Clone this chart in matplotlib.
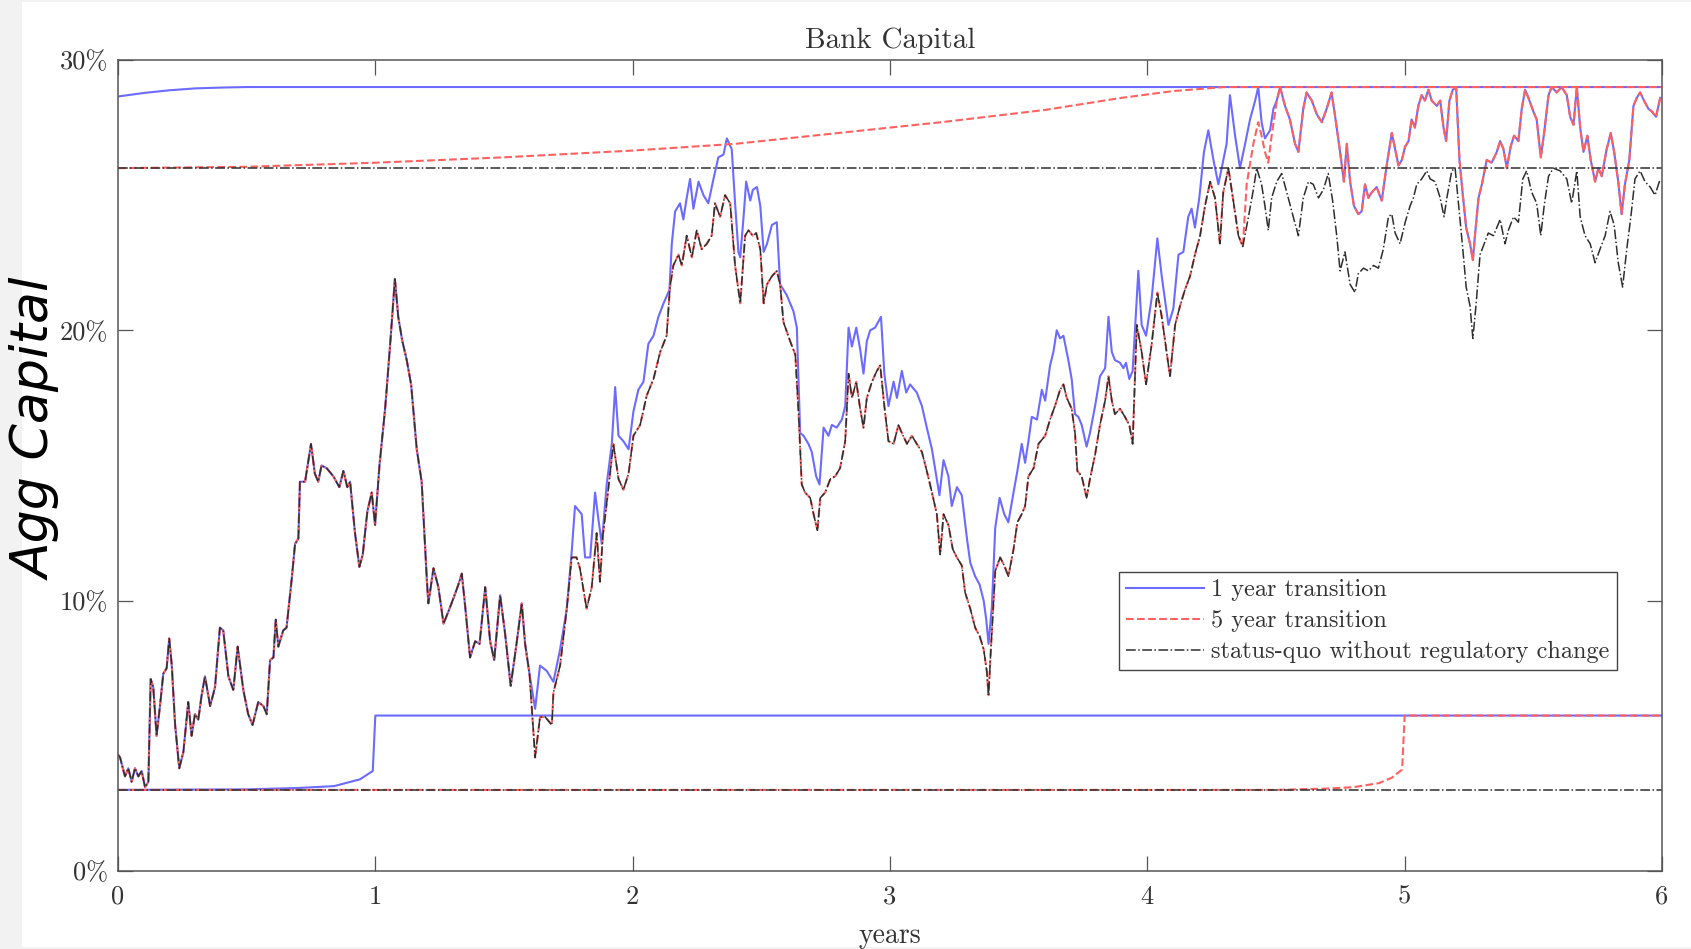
import numpy as np
import matplotlib.pyplot as plt
from matplotlib.lines import Line2D
from matplotlib.patches import Rectangle

# ---------------- data (values in %) ----------------
# path shared by all three scenarios until ~1.6 years
common_t = [0.0, 0.008, 0.027, 0.040, 0.053, 0.066, 0.079, 0.092, 0.105, 0.118,
            0.127, 0.137, 0.150, 0.163, 0.176, 0.189, 0.199, 0.209, 0.222, 0.238,
            0.254, 0.273, 0.286, 0.299, 0.312, 0.325, 0.338, 0.358, 0.377, 0.396,
            0.409, 0.429, 0.448, 0.465, 0.487, 0.506, 0.523, 0.545, 0.565, 0.578,
            0.591, 0.604, 0.613, 0.623, 0.642, 0.655, 0.675, 0.688, 0.701, 0.707,
            0.727, 0.750, 0.765, 0.778, 0.791, 0.811, 0.837, 0.860, 0.876, 0.891,
            0.902, 0.921, 0.938, 0.951, 0.969, 0.986, 0.999, 1.016, 1.038, 1.057,
            1.076, 1.089, 1.105, 1.122, 1.139, 1.161, 1.180, 1.200, 1.206, 1.226,
            1.245, 1.265, 1.284, 1.304, 1.323, 1.336, 1.349, 1.368, 1.388, 1.405,
            1.427, 1.446, 1.462, 1.485, 1.504, 1.526, 1.550, 1.569, 1.582, 1.599]
common_v = [4.3, 4.2, 3.5, 3.8, 3.3, 3.8, 3.5, 3.7, 3.1, 3.3,
            7.1, 6.8, 5.0, 6.1, 7.3, 7.5, 8.6, 7.6, 5.4, 3.8,
            4.4, 6.25, 5.0, 5.8, 5.6, 6.5, 7.2, 6.1, 6.8, 9.0,
            8.9, 7.2, 6.7, 8.3, 6.7, 5.8, 5.4, 6.25, 6.1, 5.8,
            7.8, 7.9, 9.3, 8.3, 8.9, 9.0, 10.8, 12.1, 12.3, 14.4,
            14.4, 15.8, 14.7, 14.4, 15.0, 14.9, 14.6, 14.2, 14.8, 14.2,
            14.4, 12.5, 11.25, 11.7, 13.3, 14.0, 12.8, 15.0, 17.1, 19.4,
            21.9, 20.5, 19.6, 18.9, 18.0, 15.6, 14.4, 10.8, 9.9, 11.2,
            10.5, 9.15, 9.6, 10.1, 10.6, 11.0, 9.8, 7.9, 8.5, 8.4,
            10.5, 8.5, 7.8, 10.2, 8.8, 6.85, 8.5, 9.9, 8.4, 7.3]

# 1 year transition path after the split
blue_t = [1.621, 1.640, 1.666, 1.692, 1.718, 1.744, 1.763, 1.776, 1.802, 1.815,
          1.835, 1.854, 1.867, 1.880, 1.899, 1.919, 1.932, 1.945, 1.964, 1.984,
          2.003, 2.022, 2.042, 2.061, 2.081, 2.100, 2.120, 2.143, 2.152, 2.165,
          2.184, 2.197, 2.210, 2.223, 2.236, 2.256, 2.275, 2.294, 2.314, 2.333,
          2.353, 2.366, 2.385, 2.398, 2.411, 2.418, 2.431, 2.441, 2.457, 2.467,
          2.483, 2.496, 2.509, 2.522, 2.541, 2.560, 2.573, 2.599, 2.625, 2.638,
          2.651, 2.664, 2.683, 2.696, 2.713, 2.726, 2.742, 2.761, 2.774, 2.793,
          2.813, 2.826, 2.839, 2.852, 2.869, 2.884, 2.897, 2.910, 2.923, 2.942,
          2.965, 2.978, 2.994, 3.014, 3.027, 3.046, 3.063, 3.078, 3.104, 3.124,
          3.143, 3.163, 3.180, 3.192, 3.208, 3.227, 3.240, 3.260, 3.279, 3.299,
          3.312, 3.331, 3.348, 3.364, 3.374, 3.383, 3.396, 3.409, 3.426, 3.444,
          3.460, 3.480, 3.495, 3.512, 3.525, 3.538, 3.551, 3.571, 3.590, 3.603,
          3.622, 3.635, 3.648, 3.661, 3.674, 3.693, 3.706, 3.719, 3.732, 3.745,
          3.764, 3.777, 3.797, 3.816, 3.836, 3.849, 3.862, 3.874, 3.894, 3.907,
          3.917, 3.930, 3.943, 3.965, 3.978, 3.995, 4.017, 4.039, 4.056, 4.082,
          4.101, 4.121, 4.140, 4.159, 4.172, 4.185, 4.202, 4.220, 4.237, 4.257,
          4.276, 4.289, 4.308, 4.321, 4.341, 4.360, 4.380, 4.399, 4.419, 4.431,
          4.444, 4.457, 4.477, 4.490, 4.503, 4.516, 4.535, 4.554, 4.574, 4.587,
          4.606, 4.619, 4.639, 4.658, 4.678, 4.697, 4.716, 4.733, 4.749, 4.764,
          4.775, 4.788, 4.803, 4.820, 4.833, 4.846, 4.859, 4.872, 4.891, 4.911,
          4.930, 4.950, 4.963, 4.976, 4.989, 5.002, 5.015, 5.027, 5.040, 5.053,
          5.066, 5.079, 5.092, 5.105, 5.125, 5.138, 5.151, 5.161, 5.174, 5.187,
          5.200, 5.213, 5.226, 5.239, 5.254, 5.265, 5.274, 5.287, 5.300, 5.319,
          5.338, 5.358, 5.371, 5.384, 5.397, 5.412, 5.425, 5.442, 5.455, 5.468,
          5.481, 5.500, 5.513, 5.529, 5.542, 5.559, 5.571, 5.591, 5.610, 5.630,
          5.643, 5.656, 5.669, 5.682, 5.695, 5.710, 5.723, 5.740, 5.753, 5.766,
          5.785, 5.801, 5.814, 5.830, 5.843, 5.856, 5.873, 5.889, 5.902, 5.915,
          5.930, 5.947, 5.960, 5.977, 5.993]
blue_v = [6.0, 7.6, 7.4, 7.0, 8.2, 9.7, 11.8, 13.5, 13.2, 11.6,
          11.6, 14.0, 13.0, 12.1, 14.3, 15.8, 17.9, 16.1, 15.9, 15.6,
          17.0, 17.8, 18.1, 19.5, 19.8, 20.5, 21.0, 21.5, 23.2, 24.4,
          24.7, 24.1, 24.9, 25.6, 24.5, 25.5, 25.0, 24.7, 25.6, 26.4,
          26.5, 27.1, 26.7, 24.7, 22.9, 22.7, 24.2, 25.5, 24.8, 25.2,
          25.3, 24.6, 22.9, 23.2, 23.9, 24.0, 21.7, 21.3, 20.7, 20.1,
          16.2, 16.1, 15.8, 15.5, 14.6, 14.3, 16.4, 16.1, 16.5, 16.4,
          16.7, 17.2, 20.1, 19.4, 20.1, 19.3, 18.4, 19.6, 20.0, 20.1,
          20.5, 18.4, 17.2, 18.1, 17.5, 18.5, 17.7, 18.0, 17.7, 17.2,
          16.4, 15.6, 14.6, 13.9, 15.2, 14.6, 13.5, 14.2, 13.9, 12.3,
          11.4, 10.9, 10.6, 10.0, 9.3, 8.4, 9.8, 12.7, 13.8, 13.2,
          12.9, 14.0, 14.8, 15.8, 15.1, 15.9, 16.8, 16.7, 17.8, 17.4,
          18.7, 19.2, 20.0, 19.7, 19.8, 18.9, 18.2, 16.9, 16.8, 16.5,
          15.7, 16.2, 17.2, 18.3, 18.6, 20.5, 19.2, 18.9, 18.8, 18.6,
          18.8, 18.2, 18.5, 22.2, 20.2, 19.8, 21.2, 23.4, 22.0, 20.2,
          20.8, 22.8, 22.9, 24.2, 24.5, 23.8, 24.9, 26.6, 27.4, 26.3,
          25.4, 26.0, 26.9, 28.7, 27.2, 26.0, 26.9, 27.8, 28.5, 29.0,
          27.7, 27.1, 27.4, 28.2, 28.5, 29.0, 28.3, 27.8, 26.9, 26.6,
          28.2, 28.8, 28.5, 28.0, 27.7, 28.2, 28.8, 27.7, 26.6, 25.5,
          26.9, 25.5, 24.6, 24.3, 24.4, 25.4, 24.9, 25.1, 25.3, 24.8,
          26.1, 27.3, 26.7, 26.1, 26.3, 26.8, 27.0, 27.8, 27.5, 28.3,
          28.7, 28.5, 28.9, 28.5, 28.3, 28.5, 27.5, 27.0, 28.5, 28.9,
          29.0, 26.3, 25.0, 23.8, 23.2, 22.6, 23.6, 24.9, 25.4, 26.3,
          26.2, 26.6, 27.0, 26.7, 26.0, 26.8, 27.2, 27.0, 28.2, 28.9,
          28.6, 28.1, 27.8, 26.4, 27.3, 28.7, 29.0, 28.8, 29.0, 28.7,
          27.9, 27.6, 29.0, 27.5, 26.6, 27.2, 26.3, 25.5, 26.0, 25.7,
          26.7, 27.3, 26.6, 25.5, 24.3, 25.4, 26.3, 28.3, 28.6, 28.8,
          28.5, 28.2, 28.1, 27.9, 28.6]

# status quo path after the split (5 year path follows it until ~4.37)
black_t = [1.621, 1.640, 1.660, 1.686, 1.692, 1.718, 1.744, 1.763, 1.782, 1.795,
           1.821, 1.841, 1.860, 1.873, 1.884, 1.899, 1.925, 1.945, 1.964, 1.984,
           2.003, 2.029, 2.055, 2.081, 2.107, 2.132, 2.145, 2.158, 2.178, 2.191,
           2.210, 2.230, 2.249, 2.268, 2.288, 2.307, 2.320, 2.340, 2.359, 2.379,
           2.398, 2.418, 2.437, 2.450, 2.467, 2.480, 2.496, 2.509, 2.522, 2.541,
           2.560, 2.573, 2.586, 2.612, 2.632, 2.645, 2.657, 2.670, 2.690, 2.703,
           2.718, 2.729, 2.748, 2.768, 2.787, 2.806, 2.826, 2.839, 2.852, 2.869,
           2.884, 2.897, 2.910, 2.930, 2.949, 2.962, 2.978, 2.994, 3.014, 3.033,
           3.046, 3.066, 3.085, 3.104, 3.124, 3.143, 3.163, 3.182, 3.195, 3.208,
           3.227, 3.244, 3.260, 3.279, 3.292, 3.312, 3.331, 3.348, 3.364, 3.376,
           3.383, 3.392, 3.409, 3.428, 3.444, 3.460, 3.480, 3.495, 3.512, 3.525,
           3.538, 3.558, 3.577, 3.603, 3.622, 3.641, 3.661, 3.674, 3.687, 3.706,
           3.719, 3.728, 3.745, 3.764, 3.777, 3.797, 3.816, 3.836, 3.849, 3.862,
           3.874, 3.894, 3.913, 3.930, 3.943, 3.959, 3.978, 3.995, 4.017, 4.039,
           4.056, 4.075, 4.088, 4.108, 4.127, 4.146, 4.166, 4.185, 4.205, 4.224,
           4.244, 4.263, 4.282, 4.295, 4.315, 4.334, 4.354, 4.371, 4.393, 4.412,
           4.425, 4.444, 4.457, 4.470, 4.483, 4.503, 4.522, 4.542, 4.567, 4.587,
           4.606, 4.626, 4.645, 4.665, 4.684, 4.703, 4.720, 4.736, 4.749, 4.768,
           4.788, 4.807, 4.820, 4.840, 4.859, 4.879, 4.898, 4.917, 4.937, 4.950,
           4.963, 4.982, 5.002, 5.021, 5.034, 5.047, 5.066, 5.086, 5.099, 5.118,
           5.138, 5.153, 5.164, 5.183, 5.196, 5.209, 5.226, 5.239, 5.254, 5.265,
           5.277, 5.293, 5.309, 5.325, 5.345, 5.371, 5.390, 5.403, 5.423, 5.442,
           5.459, 5.474, 5.494, 5.513, 5.529, 5.542, 5.559, 5.578, 5.604, 5.630,
           5.649, 5.669, 5.682, 5.701, 5.721, 5.740, 5.759, 5.779, 5.798, 5.814,
           5.830, 5.847, 5.863, 5.879, 5.895, 5.915, 5.934, 5.954, 5.973, 5.993]
black_v = [4.2, 5.7, 5.7, 5.4, 6.6, 7.6, 9.7, 11.6, 11.6, 11.2,
           9.7, 10.5, 12.5, 10.7, 12.4, 13.6, 15.8, 14.5, 14.1, 14.7,
           16.1, 16.5, 17.6, 18.2, 19.2, 19.8, 21.6, 22.4, 22.8, 22.4,
           23.5, 22.7, 23.7, 23.0, 23.2, 23.5, 24.7, 24.2, 25.0, 24.7,
           22.4, 21.0, 23.5, 23.7, 23.5, 23.6, 23.0, 21.0, 21.7, 22.0,
           22.2, 21.7, 20.3, 19.6, 19.1, 16.9, 14.3, 14.0, 13.8, 13.2,
           12.6, 13.8, 14.0, 14.5, 14.6, 14.9, 15.9, 18.4, 17.5, 18.1,
           17.1, 16.4, 17.5, 18.1, 18.5, 18.7, 17.2, 15.9, 15.8, 16.5,
           16.2, 15.8, 16.1, 15.8, 15.5, 14.8, 14.0, 13.2, 11.7, 13.2,
           12.8, 11.9, 11.6, 11.3, 10.3, 9.7, 9.0, 8.7, 8.2, 7.4,
           6.5, 8.2, 11.1, 11.6, 11.3, 10.9, 11.9, 12.9, 13.2, 13.5,
           14.6, 14.9, 15.8, 16.1, 16.7, 17.2, 17.8, 18.0, 17.5, 17.1,
           16.2, 14.8, 14.6, 13.8, 14.5, 15.4, 16.5, 17.4, 18.3, 17.4,
           16.9, 17.1, 16.8, 16.5, 15.8, 20.2, 19.2, 18.0, 19.5, 21.4,
           20.5, 19.2, 18.3, 20.2, 20.9, 21.5, 22.0, 22.8, 23.5, 24.6,
           25.5, 24.9, 23.2, 25.1, 26.0, 24.8, 23.5, 23.1, 24.2, 25.2,
           26.0, 25.4, 24.6, 23.7, 24.9, 25.5, 25.8, 25.1, 24.2, 23.5,
           24.9, 25.5, 25.4, 24.9, 25.2, 25.8, 24.8, 23.5, 22.2, 22.9,
           21.7, 21.4, 22.1, 22.3, 22.2, 22.4, 22.3, 23.0, 24.2, 24.3,
           23.6, 23.2, 24.0, 24.6, 24.9, 25.4, 25.6, 25.9, 25.6, 25.5,
           24.9, 24.2, 24.9, 25.9, 26.0, 24.7, 23.0, 21.6, 20.9, 19.7,
           20.9, 22.8, 23.2, 23.6, 23.5, 24.1, 23.2, 23.7, 24.2, 24.0,
           25.6, 25.9, 25.1, 24.7, 23.5, 24.6, 25.7, 26.0, 25.9, 25.6,
           24.7, 25.9, 24.2, 23.5, 23.2, 22.5, 23.0, 23.5, 24.4, 23.9,
           22.5, 21.6, 23.0, 24.2, 25.6, 25.9, 25.5, 25.3, 25.0, 25.6]

# 5 year transition: own stretch between leaving status quo and joining 1 year path
red_t = [4.386, 4.412, 4.431, 4.444, 4.457, 4.470, 4.483]
red_v = [25.4, 26.9, 27.7, 27.2, 26.6, 26.2, 27.2]
red_leave, red_join = 4.371, 4.503

# regulatory bounds
blue_hi_t = [0.0, 0.1, 0.2, 0.3, 0.4, 0.5, 6.0]
blue_hi_v = [28.65, 28.78, 28.88, 28.95, 28.98, 29.0, 29.0]
blue_lo_t = [0.0, 0.5, 0.7, 0.84, 0.94, 0.99, 1.0, 6.0]
blue_lo_v = [3.0, 3.02, 3.07, 3.14, 3.39, 3.7, 5.75, 5.75]
red_hi_t = [0.0, 0.5, 1.0, 1.5, 2.0, 2.4, 2.8, 3.2, 3.6, 3.9, 4.1, 4.3, 6.0]
red_hi_v = [26.0, 26.05, 26.2, 26.4, 26.65, 26.9, 27.3, 27.7, 28.15, 28.6, 28.85, 29.0, 29.0]
red_lo_t = [0.0, 4.5, 4.7, 4.8, 4.9, 4.95, 4.99, 5.0, 6.0]
red_lo_v = [3.0, 3.0, 3.05, 3.1, 3.25, 3.45, 3.75, 5.75, 5.75]
black_hi_v = 26.0
black_lo_v = 3.0

x_ticks = [0, 1, 2, 3, 4, 5, 6]
y_ticks = [0, 10, 20, 30]
y_ticklabels = ['0%', '10%', '20%', '30%']
labels = ['1 year transition', '5 year transition', 'status-quo without regulatory change']

# ---------------- assemble paths ----------------
ct, cv = np.array(common_t), np.array(common_v)
bt, bv = np.array(blue_t), np.array(blue_v)
kt, kv = np.array(black_t), np.array(black_v)

blue_x = np.concatenate([ct, bt])
blue_y = np.concatenate([cv, bv])
black_x = np.concatenate([ct, kt])
black_y = np.concatenate([cv, kv])
red_x = np.concatenate([ct, kt[kt <= red_leave], red_t, bt[bt >= red_join]])
red_y = np.concatenate([cv, kv[kt <= red_leave], red_v, bv[bt >= red_join]])

# ---------------- figure ----------------
plt.rcParams['font.family'] = 'cmr10'
plt.rcParams['axes.unicode_minus'] = False

fig = plt.figure(figsize=(16.91, 9.49), dpi=100, facecolor='#f2f2f2')
fig.patches.append(Rectangle((22 / 1691, 2 / 949), 1, 945 / 949, transform=fig.transFigure,
                             facecolor='white', edgecolor='none', zorder=-10))
ax = fig.add_axes([118 / 1691, 78 / 949, 1544 / 1691, 811 / 949])

c_blue = (0.42, 0.42, 1.0)
c_red = (1.0, 0.38, 0.38)
c_black = '#2e2e2e'

ax.plot(blue_hi_t, blue_hi_v, color=c_blue, lw=1.5)
ax.plot(blue_lo_t, blue_lo_v, color=c_blue, lw=1.5)
ax.plot(blue_x, blue_y, color=c_blue, lw=1.5)

ax.plot(red_hi_t, red_hi_v, color=c_red, lw=1.5, ls='--')
ax.plot(red_lo_t, red_lo_v, color=c_red, lw=1.5, ls='--')
ax.plot(red_x, red_y, color=c_red, lw=1.5, ls='--')

ax.plot([0, 6], [black_hi_v, black_hi_v], color=c_black, lw=1.1, ls='-.')
ax.plot([0, 6], [black_lo_v, black_lo_v], color=c_black, lw=1.1, ls='-.')
ax.plot(black_x, black_y, color=c_black, lw=1.1, ls='-.')

ax.set_xlim(0, 6)
ax.set_ylim(0, 30)
ax.set_xticks(x_ticks)
ax.set_xticklabels([str(v) for v in x_ticks])
ax.set_yticks(y_ticks)
ax.set_yticklabels(y_ticklabels)
ax.tick_params(direction='in', length=11, width=0.9, color='#555555', labelcolor='#333333',
               labelsize=19, top=True, right=True)
ax.tick_params(axis='x', pad=10)
ax.tick_params(axis='y', pad=7)
for s in ax.spines.values():
    s.set_color('#555555')
    s.set_linewidth(1.1)

ax.set_title('Bank Capital', fontsize=21, color='#333333', pad=9)
ax.set_xlabel('years', fontsize=20, color='#333333', labelpad=10)

fig.text(37 / 1691, 1 - 429 / 949, 'Agg Capital', rotation=90, ha='center', va='center',
         fontsize=37.5, style='oblique', family='DejaVu Sans', color='black')

handles = [Line2D([], [], color=c_blue, lw=1.5),
           Line2D([], [], color=c_red, lw=1.5, ls='--'),
           Line2D([], [], color=c_black, lw=1.1, ls='-.')]
leg = ax.legend(handles, labels, loc='upper left', bbox_to_anchor=(0.648, 0.3687),
                borderaxespad=0, fontsize=17.5, fancybox=False, framealpha=1,
                edgecolor='#444444', handlelength=3.2, handletextpad=0.3,
                labelspacing=0.36, borderpad=0.3, labelcolor='#333333')
leg.get_frame().set_linewidth(1.0)

fig.savefig('out.png', dpi=100, facecolor=fig.get_facecolor())
